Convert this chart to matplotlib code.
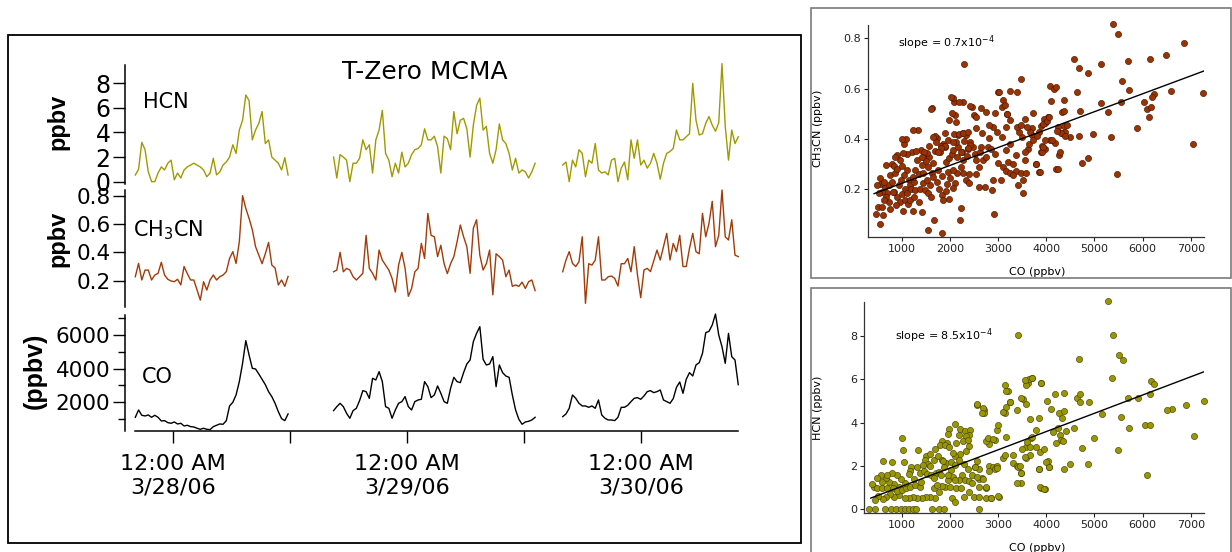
import numpy as np
import matplotlib
matplotlib.use("Agg")
import matplotlib.pyplot as plt
from matplotlib.patches import Rectangle

plt.rcParams['font.family'] = ['DejaVu Sans']

# ---- time series (hours after 3/28/06 00:00, 20 min sampling) ----
seg_start_h = [-3.8333, 16.5, 40.0]
step_h = 1.0 / 3.0

hcn_seg1 = [0.54, 1.0, 3.2, 2.6, 0.8, 0.0, 0.0, 0.7, 1.2, 0.95, 1.5, 1.75, 0.15, 0.7, 0.3, 0.95,
            1.2, 1.35, 1.5, 1.35, 1.2, 0.95, 0.4, 0.7, 1.9, 0.55, 0.8, 1.35, 1.6, 2.0, 3.0, 2.3,
            4.2, 5.0, 7.05, 6.6, 3.4, 4.2, 4.75, 5.7, 3.1, 3.4, 2.0, 1.75, 1.5, 0.95, 1.95, 0.54]
hcn_seg2 = [2.0, 0.3, 2.2, 2.0, 1.75, 0.0, 1.5, 1.5, 1.9, 3.4, 2.6, 3.0, 0.7, 3.4, 4.2, 5.8,
            2.3, 1.75, 0.4, 1.5, 0.7, 2.4, 1.2, 1.5, 2.2, 2.6, 2.7, 3.0, 4.3, 3.4, 3.4, 3.7,
            2.85, 0.7, 3.7, 3.5, 2.6, 5.7, 3.9, 5.0, 5.15, 4.3, 2.0, 4.6, 6.2, 6.8, 4.2, 4.5,
            2.3, 1.5, 2.6, 4.7, 3.4, 3.1, 2.3, 0.95, 1.9, 0.7, 0.95, 0.8, 0.3, 0.8, 1.5]
hcn_seg3 = [1.35, 1.6, 0.0, 1.75, 1.2, 2.6, 2.3, 0.4, 1.75, 1.5, 3.1, 0.95, 0.7, 0.8, 0.55,
            1.75, 1.9, 0.0, 1.1, 1.6, 0.15, 3.4, 1.9, 3.4, 1.35, 1.75, 1.1, 1.5, 2.3, 1.5, 0.2,
            1.5, 2.3, 2.45, 2.7, 4.2, 3.4, 3.4, 3.65, 3.9, 8.0, 5.0, 3.8, 3.9, 4.75, 5.3, 4.6,
            4.1, 4.8, 9.6, 4.5, 1.75, 4.2, 3.1, 3.65]

ch3cn_seg1 = [0.228, 0.322, 0.205, 0.275, 0.275, 0.205, 0.24, 0.252, 0.33, 0.24, 0.21, 0.198,
              0.193, 0.21, 0.17, 0.30, 0.25, 0.205, 0.205, 0.134, 0.063, 0.193, 0.134, 0.205,
              0.24, 0.205, 0.228, 0.24, 0.264, 0.357, 0.405, 0.322, 0.475, 0.80, 0.71, 0.64,
              0.56, 0.44, 0.38, 0.32, 0.39, 0.47, 0.31, 0.29, 0.17, 0.205, 0.16, 0.23]
ch3cn_seg2 = [0.263, 0.275, 0.40, 0.263, 0.287, 0.275, 0.228, 0.205, 0.228, 0.252, 0.52, 0.287,
              0.252, 0.205, 0.416, 0.345, 0.31, 0.275, 0.216, 0.12, 0.31, 0.40, 0.287, 0.09,
              0.145, 0.263, 0.287, 0.463, 0.357, 0.675, 0.52, 0.51, 0.37, 0.45, 0.32, 0.25,
              0.32, 0.37, 0.475, 0.593, 0.51, 0.44, 0.252, 0.57, 0.63, 0.38, 0.275, 0.32,
              0.416, 0.10, 0.39, 0.37, 0.345, 0.228, 0.275, 0.16, 0.17, 0.16, 0.19, 0.145,
              0.193, 0.205, 0.13]
ch3cn_seg3 = [0.263, 0.346, 0.405, 0.322, 0.30, 0.334, 0.51, 0.04, 0.32, 0.31, 0.345, 0.51,
              0.205, 0.205, 0.228, 0.233, 0.216, 0.162, 0.32, 0.32, 0.357, 0.263, 0.44, 0.24,
              0.08, 0.275, 0.287, 0.264, 0.34, 0.416, 0.346, 0.44, 0.534, 0.346, 0.463, 0.405,
              0.52, 0.30, 0.30, 0.428, 0.534, 0.405, 0.39, 0.675, 0.51, 0.605, 0.76, 0.44,
              0.52, 0.84, 0.51, 0.487, 0.63, 0.38, 0.37]

co_seg1 = [1109, 1545, 1228, 1189, 1248, 1109, 1228, 1109, 892, 911, 793, 753, 832, 713, 753,
           595, 634, 555, 535, 456, 397, 456, 397, 377, 555, 634, 713, 694, 911, 1783, 2000,
           2436, 3228, 4317, 5663, 4812, 4020, 3980, 3683, 3367, 3050, 2634, 2337, 1941, 1446,
           1030, 911, 1307]
co_seg2 = [1505, 1743, 1941, 1743, 1347, 1050, 1505, 1644, 2099, 2693, 2634, 2238, 3426, 3327,
           3822, 3228, 1743, 1644, 1050, 1545, 1941, 2040, 2337, 1743, 1545, 2040, 2139, 2179,
           3228, 2931, 2278, 2436, 2971, 2535, 2040, 1941, 2832, 3485, 3228, 3169, 3763, 4277,
           4515, 5604, 6099, 6495, 4555, 4218, 4277, 4713, 2931, 4218, 3763, 3564, 3485, 2436,
           1545, 991, 694, 832, 872, 951, 1109]
co_seg3 = [1149, 1307, 1644, 2436, 2238, 1941, 1783, 1783, 1703, 1783, 1644, 2139, 1248, 1050,
           951, 951, 911, 1109, 1703, 1703, 1822, 2040, 2238, 2278, 2179, 2377, 2634, 2693,
           2574, 2634, 2733, 2139, 2040, 1941, 2218, 2891, 3208, 2535, 3367, 3763, 3564, 4218,
           4357, 4911, 6139, 6218, 6594, 7247, 6000, 5307, 4317, 6099, 4713, 4515, 3050]

day_ticks_h = [0, 12, 24, 36, 48]
day_labels = ['12:00 AM\n3/28/06', '', '12:00 AM\n3/29/06', '', '12:00 AM\n3/30/06']

# ---- scatter data (CO ppbv, tracer ppbv) ----
ch3cn_vs_co = [
    (4576, 0.717), (4680, 0.683), (4868, 0.664), (5132, 0.70), (5375, 0.857), (5493, 0.817),
    (5688, 0.709), (6153, 0.717), (6486, 0.735), (6868, 0.78), (7250, 0.584), (6590, 0.591),
    (6229, 0.579), (6194, 0.565), (6035, 0.547), (6083, 0.518), (6173, 0.526), (6139, 0.489),
    (5569, 0.632), (5708, 0.595), (5542, 0.548), (5271, 0.509), (5139, 0.542), (4694, 0.511),
    (4632, 0.587), (4361, 0.555), (4333, 0.509), (4368, 0.512), (4097, 0.55), (4083, 0.61),
    (4160, 0.597), (4208, 0.605), (5875, 0.444), (4979, 0.418), (5347, 0.406), (4688, 0.412),
    (4500, 0.409), (7041, 0.379), (5472, 0.259), (4875, 0.326), (4736, 0.303), (4201, 0.282),
    (4264, 0.336), (4278, 0.35), (4180, 0.383), (4069, 0.396), (4028, 0.489), (3951, 0.478),
    (3972, 0.465), (3882, 0.452), (3847, 0.429), (3694, 0.442), (3708, 0.416), (3812, 0.412),
    (3903, 0.372), (3882, 0.35), (3972, 0.359), (3778, 0.30), (3847, 0.267), (4250, 0.449),
    (4368, 0.452), (4333, 0.422), (4389, 0.429), (4298, 0.422), (2299, 0.698),
    (450, 0.103), (498, 0.13), (539, 0.061), (587, 0.13), (608, 0.097), (553, 0.243),
    (566, 0.223), (656, 0.209), (690, 0.186), (725, 0.216), (794, 0.229), (759, 0.256),
    (677, 0.296), (794, 0.302), (842, 0.292), (863, 0.263), (897, 0.282), (966, 0.318),
    (897, 0.336), (1034, 0.382), (1089, 0.398), (1000, 0.292), (1103, 0.276), (1048, 0.256),
    (1138, 0.236), (1172, 0.216), (1241, 0.229), (1227, 0.249), (1275, 0.276), (1344, 0.26),
    (1310, 0.316), (1392, 0.355), (1323, 0.435), (1206, 0.349), (1103, 0.342), (842, 0.19),
    (897, 0.17), (952, 0.15), (1000, 0.183), (1069, 0.156), (1117, 0.14), (1172, 0.159),
    (1241, 0.17), (1344, 0.15), (1413, 0.11), (1227, 0.114), (1021, 0.114), (883, 0.137),
    (745, 0.12), (725, 0.15), (677, 0.17), (622, 0.159), (931, 0.216), (979, 0.236),
    (814, 0.19), (1069, 0.203), (1103, 0.186), (1186, 0.203), (1275, 0.196), (1378, 0.203),
    (1447, 0.226), (1482, 0.196), (1550, 0.186), (1585, 0.216), (1599, 0.17), (1516, 0.236),
    (1550, 0.289), (1571, 0.329), (1530, 0.345), (1640, 0.305), (1688, 0.353), (1722, 0.402),
    (1688, 0.411), (1709, 0.389), (1757, 0.276), (1737, 0.229), (1778, 0.203), (1826, 0.176),
    (1860, 0.156), (1846, 0.382), (1805, 0.371), (1537, 0.037), (1826, 0.028), (1667, 0.079),
    (2204, 0.079), (2218, 0.127), (2906, 0.101), (2878, 0.196), (2892, 0.239), (1929, 0.223),
    (1998, 0.243), (1963, 0.269), (1915, 0.309), (1984, 0.326), (2032, 0.342), (2066, 0.355),
    (2135, 0.329), (2170, 0.369), (2239, 0.349), (2273, 0.318), (2342, 0.332), (2376, 0.362),
    (2410, 0.389), (2466, 0.369), (2514, 0.34), (2548, 0.318), (2617, 0.349), (2652, 0.369),
    (2603, 0.289), (2534, 0.262), (2603, 0.209), (2720, 0.209), (2686, 0.316), (2755, 0.329),
    (2789, 0.369), (2858, 0.362), (2926, 0.34), (2995, 0.305), (3064, 0.236), (3098, 0.289),
    (3153, 0.273), (3202, 0.309), (3250, 0.263), (3305, 0.302), (3360, 0.273), (3408, 0.216),
    (3477, 0.263), (3511, 0.186), (3525, 0.236), (3580, 0.263), (3566, 0.316), (3614, 0.362),
    (3649, 0.382), (3663, 0.428), (3594, 0.448), (3497, 0.409), (3442, 0.428), (3388, 0.448),
    (3477, 0.455), (3546, 0.481), (2995, 0.588), (3098, 0.554), (3181, 0.501), (3236, 0.475),
    (3167, 0.448), (3084, 0.409), (2975, 0.428), (2892, 0.448), (2810, 0.455), (2755, 0.508),
    (2810, 0.402), (2672, 0.422), (2548, 0.442), (2493, 0.495), (2445, 0.528), (2121, 0.468),
    (2101, 0.495), (2080, 0.548), (2066, 0.562), (2273, 0.548), (2170, 0.415), (2259, 0.422),
    (2328, 0.415), (2218, 0.289), (2273, 0.263), (2328, 0.236), (2397, 0.226), (2397, 0.26),
    (2149, 0.263), (2101, 0.226), (2052, 0.207), (1984, 0.163), (1915, 0.193), (2066, 0.276),
    (1826, 0.252), (1619, 0.263), (1447, 0.263), (1413, 0.296), (1447, 0.329), (1502, 0.313),
    (1963, 0.395), (1894, 0.369), (1791, 0.349), (2121, 0.389), (3546, 0.349), (3360, 0.336),
    (3250, 0.382), (3305, 0.256), (3153, 0.355), (1654, 0.249), (587, 0.19), (635, 0.229),
    (518, 0.186), (484, 0.216),
    (1625, 0.522), (1604, 0.518), (2021, 0.565), (2180, 0.548), (2403, 0.531), (2646, 0.522),
    (3014, 0.587), (3236, 0.591), (3389, 0.588), (3479, 0.637), (2924, 0.505), (3083, 0.526),
    (3132, 0.535), (3181, 0.498), (2542, 0.489), (2042, 0.505), (1972, 0.475), (1236, 0.436),
    (1000, 0.40), (1639, 0.406), (1903, 0.425), (2090, 0.42), (2194, 0.42), (2264, 0.422),
    (2368, 0.429), (2056, 0.389), (2299, 0.393), (2403, 0.376), (2368, 0.363), (2229, 0.35),
    (1903, 0.372), (1812, 0.363), (1743, 0.35), (1556, 0.372), (1465, 0.35), (1417, 0.33),
    (1292, 0.353), (1014, 0.345), (861, 0.327), (3718, 0.395), (3718, 0.504), (3787, 0.302),
    (3869, 0.269), (3910, 0.349), (3940, 0.369), (3980, 0.395), (3924, 0.459), (4007, 0.472),
    (4062, 0.488), (4117, 0.395), (4213, 0.432), (4234, 0.282), (4392, 0.411), (4420, 0.455),
]

hcn_vs_co = [
    (5276, 9.62), (5379, 8.04), (5503, 7.12), (5586, 6.89), (4676, 6.92), (5359, 6.04),
    (6172, 5.92), (6241, 5.76), (6152, 5.30), (5690, 5.12), (5897, 5.12), (6897, 4.81),
    (6607, 4.62), (6497, 4.57), (7276, 5.0), (5159, 4.38), (5552, 4.27), (5724, 3.76),
    (6048, 3.88), (6159, 3.88), (7069, 3.39), (6083, 1.57), (5483, 2.73), (4738, 2.81),
    (4986, 3.30), (4862, 2.07), (4497, 2.07), (4579, 3.73), (4366, 1.87), (4055, 1.95),
    (4034, 2.20), (3848, 1.83), (3883, 0.99), (3979, 0.92), (3862, 2.65), (3945, 2.77),
    (4172, 5.30), (4366, 5.38), (4634, 5.12), (4690, 5.30), (4703, 4.93), (4883, 4.93),
    (4021, 5.0), (4103, 4.61), (4262, 4.42), (4359, 4.53), (4331, 4.22), (4248, 3.73),
    (4138, 3.58), (4276, 3.42), (4310, 3.19), (4345, 3.14), (4207, 3.04), (4400, 3.6),
    (3897, 5.82), (3710, 6.04), (3586, 5.92), (3779, 3.65), (3848, 4.22), (3655, 4.16),
    (3690, 3.30), (3779, 2.88), (3586, 2.34), (3586, 2.88), (3669, 2.5), (3412, 8.04),
    (321, 0), (446, 0), (640, 0), (778, 0), (875, 0), (986, 0), (1069, 0), (1152, 0),
    (1222, 0), (1291, 0), (1624, 0), (1776, 0), (1866, 0), (2594, 0),
    (3148, 5.73), (3197, 5.45), (2559, 4.83), (2698, 4.57), (2698, 4.46), (3134, 4.46),
    (3252, 4.95), (3509, 5.07), (3613, 5.84), (3578, 5.75), (3633, 6.0),
    (1984, 3.72), (1956, 3.45), (2095, 3.92), (2213, 3.72), (2317, 3.61), (2421, 3.66),
    (2386, 3.43), (2331, 3.37), (1832, 3.14), (1797, 2.94), (1936, 3.04), (1901, 2.94),
    (1984, 2.87), (2123, 3.04), (2178, 3.41), (2261, 3.14), (2372, 3.20), (2386, 2.90),
    (2331, 2.68), (2213, 2.56), (2109, 2.44), (1000, 3.30), (1014, 2.73), (1333, 2.73),
    (598, 2.22), (792, 2.16), (1035, 2.16), (1194, 1.96), (1173, 1.76), (1499, 2.44),
    (1589, 2.56), (1658, 2.25), (1471, 2.28), (1541, 2.10), (1693, 2.79), (1748, 2.44),
    (1832, 2.25), (1915, 2.13), (2026, 2.17), (2109, 2.02), (2178, 2.25), (2282, 2.10),
    (2372, 1.87), (2248, 1.57), (2192, 1.34), (2317, 1.34), (2400, 1.31), (2455, 1.57),
    (2594, 1.37), (2663, 1.42), (2511, 1.93), (2559, 2.23), (2608, 1.87), (2802, 1.98),
    (2885, 1.93), (2927, 1.85), (2975, 1.97), (2816, 3.01), (2747, 3.16), (2927, 3.19),
    (2975, 3.65), (2747, 0.99), (2857, 0.52), (3010, 0.54), (3093, 2.37), (3148, 2.52),
    (3300, 2.11), (3390, 2.0), (3481, 1.65), (3481, 1.19), (3412, 1.94), (3495, 2.79),
    (3599, 3.1), (3703, 3.33), (3668, 2.86), (3564, 2.42), (2026, 1.80), (2054, 1.49),
    (1956, 1.34), (2109, 1.34), (1887, 1.03), (2005, 1.03), (2123, 0.99), (2234, 0.96),
    (2040, 0.52), (2109, 0.31), (2282, 0.57), (2400, 0.8), (2490, 0.57), (2608, 0.57),
    (1832, 1.08), (1762, 0.80), (1658, 0.99), (1679, 0.52), (1589, 0.57), (1499, 0.57),
    (1416, 0.52), (1312, 0.52), (1222, 0.57), (1139, 0.52), (1055, 0.52), (931, 0.65),
    (827, 0.57), (757, 0.69), (667, 0.57), (598, 0.46), (501, 0.62), (432, 0.42),
    (931, 1.03), (827, 1.14), (737, 1.26), (667, 1.45), (570, 1.57), (480, 1.45),
    (411, 1.03), (376, 1.14), (480, 0.99), (584, 0.99), (688, 0.99), (806, 0.99),
    (896, 0.83), (1000, 0.88), (1083, 0.99), (1173, 1.03), (1277, 1.11), (1381, 1.03),
    (1055, 1.18), (986, 1.39), (896, 1.57), (792, 1.65), (688, 1.57), (584, 1.23),
    (1380, 1.65), (1450, 1.75), (1520, 1.60), (1610, 1.55), (1700, 1.65), (1580, 2.0),
    (1660, 1.45), (1760, 1.70), (1310, 1.95), (1250, 1.40), (1440, 2.05), (1870, 1.95),
    (1820, 1.55), (1150, 1.60), (1400, 1.25), (1720, 1.10), (1950, 1.55), (2050, 2.6),
    (1860, 2.2),
    (3167, 3.34), (2995, 3.88), (2789, 3.27), (2892, 3.22), (3305, 2.5), (3442, 1.99),
    (3477, 1.68), (3388, 1.19), (3855, 1.83), (3869, 1.03), (3958, 0.91), (3993, 2.19),
    (4062, 1.96), (2995, 0.6), (2754, 0.49), (2858, 0.49), (2975, 1.88), (2810, 1.77),
    (2741, 1.0), (2603, 1.0), (2514, 1.96), (2562, 1.49), (2686, 1.37), (2445, 1.19),
    (2562, 4.85), (2686, 4.65), (2672, 4.42), (3098, 4.50), (3153, 4.73), (3388, 4.58),
    (3236, 4.96), (3477, 5.12), (3580, 4.88), (3167, 5.47), (3704, 6.04), (3546, 5.96),
    (3890, 5.81),
]

# fitted lines as printed on the panels
fit_ch3cn = (0.711e-4, 0.153)
fit_hcn = (8.44e-4, 0.208)

# colours
c_hcn = '#a09a00'
c_ch3cn = '#a33a08'
c_hcn_pt = '#9a9600'
c_ch3cn_pt = '#9b3300'

W, H = 1232, 552
fig = plt.figure(figsize=(W / 100, H / 100), dpi=100)


def px_axes(l, t, r, b):
    return fig.add_axes([l / W, 1 - b / H, (r - l) / W, (b - t) / H])


def fig_text(x, y, s, **kw):
    fig.text(x / W, 1 - y / H, s, **kw)


def frame(l, t, r, b, col, lw):
    fig.add_artist(Rectangle((l / W, 1 - b / H), (r - l) / W, (b - t) / H,
                             transform=fig.transFigure, fill=False, ec=col, lw=lw))


# ---------- left panel ----------
frame(8, 35, 801, 543, 'black', 1.3)

xl = (-4.89, 58.18)
ax_h = px_axes(125, 65, 740, 184)
ax_c = px_axes(125, 190, 740, 307)
ax_o = px_axes(125, 315, 740, 431)

series = [(ax_h, [hcn_seg1, hcn_seg2, hcn_seg3], c_hcn),
          (ax_c, [ch3cn_seg1, ch3cn_seg2, ch3cn_seg3], c_ch3cn),
          (ax_o, [co_seg1, co_seg2, co_seg3], 'black')]
for ax, segs, col in series:
    for t0, vals in zip(seg_start_h, segs):
        t = t0 + step_h * np.arange(len(vals))
        ax.plot(t, vals, color=col, lw=1.0, clip_on=False)
    ax.set_xlim(*xl)
    ax.set_facecolor('none')
    for s in ['top', 'right']:
        ax.spines[s].set_visible(False)
    ax.spines['left'].set_linewidth(1.1)
    ax.tick_params(axis='y', direction='out', length=8.5, width=1.0, pad=2)
    ax.tick_params(axis='y', which='minor', direction='out', length=5, width=1.0)

for ax in (ax_h, ax_c):
    ax.spines['bottom'].set_visible(False)
    ax.set_xticks([])

ax_h.set_ylim(-0.19, 9.49)
ax_h.set_yticks([0, 2, 4, 6, 8])
ax_h.tick_params(axis='y', labelsize=17)

ax_c.set_ylim(0.0144, 0.840)
ax_c.set_yticks([0.2, 0.4, 0.6, 0.8])
ax_c.set_yticklabels(['0.2', '0.4', '0.6', '0.8'])
ax_c.tick_params(axis='y', labelsize=15.5)

ax_o.set_ylim(295, 7188)
ax_o.set_yticks([2000, 4000, 6000])
ax_o.set_yticks([1000, 3000, 5000, 7000], minor=True)
ax_o.tick_params(axis='y', labelsize=15.5)
ax_o.spines['bottom'].set_bounds(-3.87, 57.98)
ax_o.spines['bottom'].set_linewidth(1.1)
ax_o.set_xticks(day_ticks_h)
ax_o.set_xticklabels(day_labels, fontsize=16, linespacing=1.25)
ax_o.tick_params(axis='x', direction='out', length=8.5, width=1.0, pad=8)

fig_text(425, 72, 'T-Zero MCMA', fontsize=18, ha='center', va='center')
fig_text(143, 102, 'HCN', fontsize=15, ha='left', va='center')
fig_text(133, 230, 'CH$_3$CN', fontsize=15, ha='left', va='center')
fig_text(142, 377, 'CO', fontsize=15, ha='left', va='center')
fig_text(58, 122, 'ppbv', fontsize=17, fontweight='bold', family='Liberation Sans',
         rotation=90, ha='center', va='center')
fig_text(58, 239, 'ppbv', fontsize=17, fontweight='bold', family='Liberation Sans',
         rotation=90, ha='center', va='center')
fig_text(35, 371, '(ppbv)', fontsize=18, fontweight='bold', family='Liberation Sans',
         rotation=90, ha='center', va='center')

# ---------- right panels ----------
frame(811, 8, 1231, 278, '#7a7a7a', 1.2)
frame(811, 288, 1231, 560, '#7a7a7a', 1.2)

ax_t = px_axes(868.3, 25, 1204, 236.7)
ax_b = px_axes(864.3, 301.7, 1204, 513.3)

panels = [(ax_t, ch3cn_vs_co, c_ch3cn_pt, '#3a1200', fit_ch3cn, (420, 7276)),
          (ax_b, hcn_vs_co, c_hcn_pt, '#3a3a00', fit_hcn, (350, 7276))]
for ax, pts, fc, ec, fit, xr in panels:
    arr = np.array(pts)
    ax.scatter(arr[:, 0], arr[:, 1], s=20, c=fc, edgecolors=ec, linewidths=0.4,
               zorder=3, clip_on=False)
    lx = np.array(xr)
    ax.plot(lx, fit[0] * lx + fit[1], color='black', lw=1.0, zorder=4)
    for s in ['top', 'right']:
        ax.spines[s].set_visible(False)
    for s in ['left', 'bottom']:
        ax.spines[s].set_color('#333333')
        ax.spines[s].set_linewidth(0.9)
    ax.set_xticks([1000, 2000, 3000, 4000, 5000, 6000, 7000])
    ax.tick_params(direction='out', length=3, width=0.8, labelsize=8, pad=2,
                   colors='#222222')

ax_t.set_xlim(300, 7276)
ax_t.set_ylim(0.0117, 0.853)
ax_t.set_yticks([0.2, 0.4, 0.6, 0.8])
ax_t.set_yticklabels(['0.2', '0.4', '0.6', '0.8'])

ax_b.set_xlim(216, 7276)
ax_b.set_ylim(-0.2, 9.59)
ax_b.set_yticks([0, 2, 4, 6, 8])

fig_text(1037, 272, 'CO (ppbv)', fontsize=8, ha='center', va='center')
fig_text(818, 129, 'CH$_3$CN (ppbv)', fontsize=8, rotation=90, ha='center', va='center')
fig_text(898, 43, 'slope = 0.7x10$^{-4}$', fontsize=8, ha='left', va='center')

fig_text(1037, 548, 'CO (ppbv)', fontsize=8, ha='center', va='center')
fig_text(818, 408, 'HCN (ppbv)', fontsize=8, rotation=90, ha='center', va='center')
fig_text(895, 336, 'slope = 8.5x10$^{-4}$', fontsize=8, ha='left', va='center')

fig.savefig('out.png', dpi=100)
